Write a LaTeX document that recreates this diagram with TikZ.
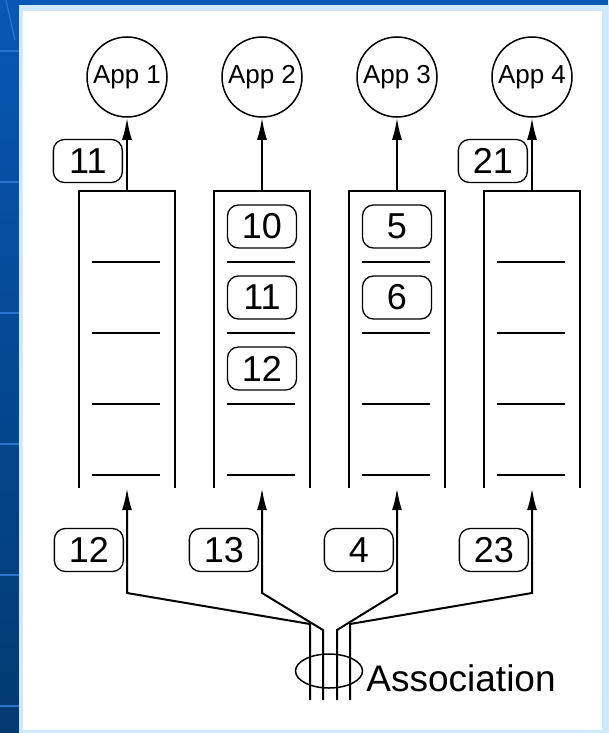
\documentclass[tikz,border=0pt]{standalone}
\usepackage{fontspec}
\setmainfont{Liberation Sans}
\usetikzlibrary{arrows.meta,positioning,calc,shapes.geometric}
\definecolor{bgTop}{HTML}{0757B4}
\definecolor{bgBot}{HTML}{023A70}
\definecolor{rim}{HTML}{CDE8FF}
\definecolor{rule}{HTML}{2A74CC}
\tikzset{
  app/.style={circle,draw,line width=1.5pt,minimum size=80pt,inner sep=0pt,
              font=\fontsize{26}{26}\selectfont},
  queue/.style={minimum width=95pt,minimum height=297pt,inner sep=0pt},
  tag/.style={rounded corners=11pt,draw,line width=1.3pt,fill=white,
              minimum width=69pt,minimum height=43pt,inner sep=0pt,
              font=\fontsize{36}{36}\selectfont},
  slot/.style={line width=2pt},
  feed/.style={-{Latex[length=22pt,width=10pt]},line width=2pt},
  bundle/.style={ellipse,draw,line width=1.5pt,minimum width=67pt,
              minimum height=34pt,inner sep=0pt},
}

\begin{document}
\begin{tikzpicture}[x=1pt,y=-1pt]
  \useasboundingbox (0,0) rectangle (608,733);
  % slide background and white panel
  \shade[top color=bgTop,bottom color=bgBot] (0,0) rectangle (608,733);
  \foreach \y in {51,182,313,444,575,706}
    \draw[rule,line width=1.2pt] (0,\y) -- (19,\y);
  \draw[rule,line width=1.2pt] (6,0) -- (15,40);
  \fill[rim] (19,5) rectangle (608,733);
  \fill[white] (23,11) rectangle (602,730);

  % queues, applications, feeds from the association
  \foreach \i/\x/\k/\h/\n in {1/127/310/624/12,2/262/323/630/13,
                              3/397/337/630/4,4/532/350/624/23}{
    \node[queue] (q\i) at (\x,339.5) {};
    \draw[slot] (q\i.south west) -- (q\i.north west)
                -- (q\i.north east) -- (q\i.south east);
    \foreach \y in {262,333,404,475} \draw[slot] (\x-35,\y) -- (\x+33,\y);
    \node[app] (a\i) at (\x,77) {App \i};
    \draw[feed] (q\i.north) -- (a\i.south);
    \coordinate (m\i) at (\x,593);
    \coordinate (k\i) at (\k,\h);
    \coordinate (e\i) at (\k,700);
    \draw[feed,line join=miter] (e\i) -- (k\i) -- (m\i) -- (q\i.south);
    \node[tag,anchor=east] (i\i) at (\x-3,550) {\n};
  }

  % messages
  \node[tag,anchor=east] (o1) at (123,161) {11};
  \node[tag,anchor=east] (o4) at (528,161) {21};
  \node[tag] (s21) at (262,226.5) {10};
  \node[tag] (s22) at (262,297.5) {11};
  \node[tag] (s23) at (262,368.5) {12};
  \node[tag] (s31) at (397,226.5) {5};
  \node[tag] (s32) at (397,297.5) {6};

  \node[bundle] (as) at (329,671) {};
  \node[right=3pt of as,yshift=-7pt,inner sep=0pt,
        font=\fontsize{37}{37}\selectfont] (asl) {Association};
\end{tikzpicture}
\end{document}
